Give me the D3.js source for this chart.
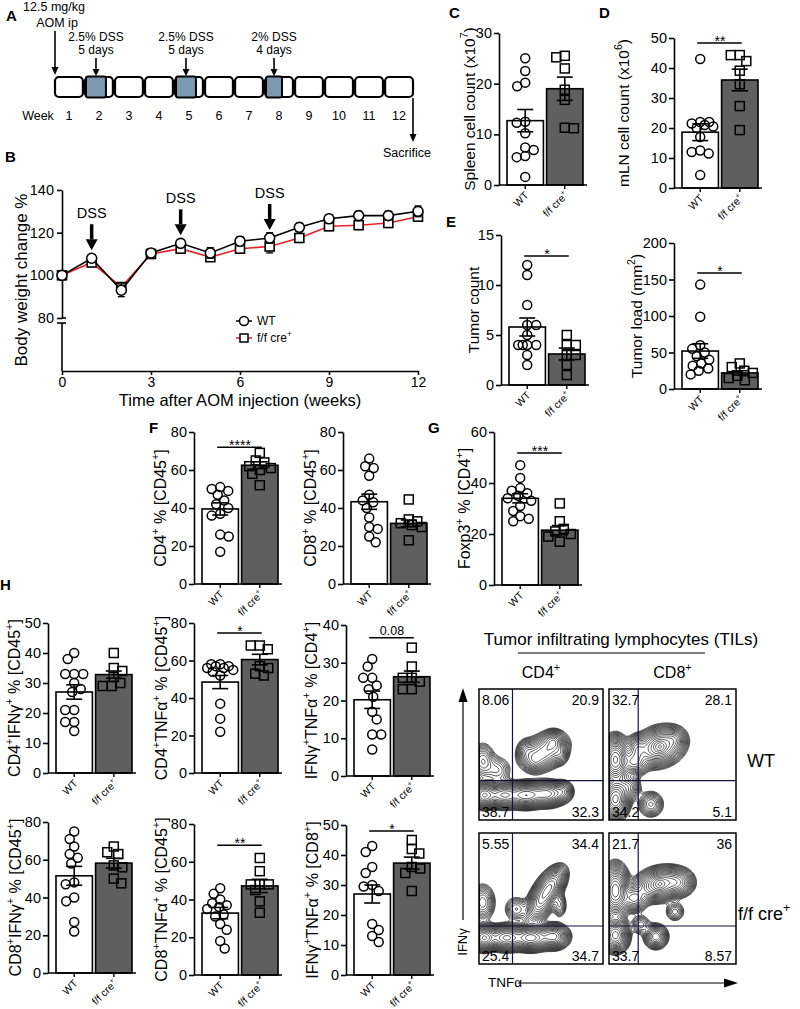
<!DOCTYPE html>
<html>
<head>
<meta charset="utf-8">
<script src="https://cdn.jsdelivr.net/npm/d3@7/dist/d3.min.js"></script>
<style>
  html,body{margin:0;padding:0;background:#fff;}
  svg{display:block;font-family:"Liberation Sans",Arial,Helvetica,sans-serif;}
</style>
</head>
<body>
<svg id="fig" width="800" height="1009"></svg>
<script>
// ================= DATA =================
// Panel A – protocol timeline
const weeks = [1,2,3,4,5,6,7,8,9,10,11,12];
const dssWeeks = [2,5,8];
const dssDays = [5,5,4];
const dssDose = ["2.5% DSS","2.5% DSS","2% DSS"];
const dssDuration = ["5 days","5 days","4 days"];

// Panel B – body weight change (%)
const bWeeks = [0,1,2,3,4,5,6,7,8,9,10,11,12];
const bWT   = [100,108,93,110.5,115,110.5,116,117.5,122.5,126.5,128,128,130];
const bWTse = [0.6,1.5,3,1.5,1.8,2.5,2.2,2.5,2,2,2,2,2.5];
const bFF   = [100,106,94.5,110,112.5,108.5,112.5,113.5,117.5,123,123.5,124.5,127.5];
const bFFse = [0.6,1.5,2,1.5,1.5,1.5,2,3,2,2,2,2,2];
const bDssWeeks = [1,4,7];
const bYTicks = [80,100,120,140];
const bXTicks = [0,3,6,9,12];

// Groups
const groups = ["WT","f/f cre^+"];

// C spleen cell count (x10^7)
const spleenWT = [25,22.5,20.2,19.5,12.5,12.3,10.2,7.4,6.9,5.7,5.5,1.6];
const spleenFF = [25.5,25.2,23,18.8,16.8,11.3,11.2];
const spleenMean = [12.7,19];
const spleenSem = [2.2,2.3];
// D mLN cell count (x10^6)
const mlnWT = [43,22,22,21.5,21,20.5,20,17,12.5,12,11.5,4.3];
const mlnFF = [44.3,44.3,42.3,39.1,34.6,27.3,19.3];
const mlnMean = [18.6,36];
const mlnSem = [2.8,3.6];
// E tumor count
const tumorCountWT = [12,11,8,6,6,5,4,4,4,4,3,2];
const tumorCountFF = [5,4,4,3,3,2,1];
const tumorCountMean = [5.8,3.1];
const tumorCountSem = [0.9,0.6];
// E tumor load (mm^2)
const tumorLoadWT = [143,99,60,55,50,45,40,35,32,28,25,20];
const tumorLoadFF = [35,30,25,22,18,15,12];
const tumorLoadMean = [52,22];
const tumorLoadSem = [10,3];
// F CD4+ % [CD45+]
const cd4WT = [51,50,49,47,44,42,40,37,36,26,25,17];
const cd4FF = [69,65,64,62,61,60,58,52];
const cd4Mean = [39.5,62.5];
const cd4Sem = [3.2,1.8];
// F CD8+ % [CD45+]
const cd8WT = [66,62,61,57,47,44,43,40,35,30,29,25,22];
const cd8FF = [44.5,34,33,32,31,30,23];
const cd8Mean = [43.3,31.9];
const cd8Sem = [4,1.8];
// G Foxp3+ % [CD4+]
const foxp3WT = [47,42,38,37,36,35,34,33,31,29,27,26,25];
const foxp3FF = [32,25,22,21,20,19,17];
const foxp3Mean = [34,21.5];
const foxp3Sem = [1.8,1.8];
// H
const cd4IfngWT = [40,38,33,33,33,30,28,27,21,21,17,17,14];
const cd4IfngFF = [40,35,34,32,30,29,29];
const cd4IfngMean = [27,32.8];
const cd4IfngSem = [2.4,1.2];
const cd4TnfWT = [58,58,57,57,56,56,55,54,52,37,29,22];
const cd4TnfFF = [68,68,66,57,56,53,52];
const cd4TnfMean = [48.5,60.5];
const cd4TnfSem = [3.5,2.8];
const cd4DoubleWT = [31,29,26,26,24,23,21,17,15,11,11,7];
const cd4DoubleFF = [34,29,26,26,25,23,23];
const cd4DoubleMean = [20.2,26.3];
const cd4DoubleSem = [2.3,1.5];
const cd8IfngWT = [75,71,67,63,61,58,48,47,40,38,27,22];
const cd8IfngFF = [67,64,63,57,56,50,47.5];
const cd8IfngMean = [51.5,58.2];
const cd8IfngSem = [5,2.6];
const cd8TnfWT = [46,43,40,38,37,36,35,32,31,27,24,18,14];
const cd8TnfFF = [62,55,48,48,48,45,39,33];
const cd8TnfMean = [32.8,47.2];
const cd8TnfSem = [3,3.5];
const cd8DoubleWT = [43,41,36,34,30,29.5,28,17,15,13,11];
const cd8DoubleFF = [45,42,40.5,36,35.5,34,28];
const cd8DoubleMean = [27,37.3];
const cd8DoubleSem = [3,2];

// Flow cytometry (TILs): quadrant % [UL, UR, LL, LR]
const flowCols = ["CD4^+","CD8^+"];
const flowRows = ["WT","f/f cre^+"];
const flowPctCD4WT = ["8.06","20.9","38.7","32.3"];
const flowPctCD8WT = ["32.7","28.1","34.2","5.1"];
const flowPctCD4FF = ["5.55","34.4","25.4","34.7"];
const flowPctCD8FF = ["21.7","36","33.7","8.57"];
// gate positions (fraction of TNFα / IFNγ axis)
const flowGateX = [0.27,0.23,0.27,0.23];
const flowGateY = [0.30,0.30,0.29,0.29];
// population clusters: [TNFα, IFNγ, sdX, sdY, weight, corr]
const flowBlobsCD4WT = [
 [0.04,0.19,0.05,0.045,1.0,0],[0.20,0.19,0.07,0.045,0.85,0],[0.38,0.19,0.07,0.045,0.95,0],
 [0.55,0.20,0.07,0.045,0.75,0],[0.68,0.22,0.04,0.04,0.25,0],[0.53,0.52,0.09,0.07,0.45,0.3],
 [0.60,0.60,0.04,0.04,0.3,0],[0.45,0.45,0.04,0.04,0.18,0],[0.38,0.52,0.04,0.05,0.16,0],
 [0.03,0.45,0.05,0.07,0.18,0],[0.15,0.38,0.06,0.06,0.1,0],[0.66,0.50,0.03,0.04,0.12,0]];
const flowBlobsCD8WT = [
 [0.05,0.46,0.05,0.08,1.0,0],[0.05,0.16,0.05,0.07,0.85,0],[0.40,0.56,0.09,0.07,0.7,0.2],
 [0.40,0.56,0.025,0.025,0.3,0],[0.20,0.44,0.05,0.05,0.35,0],[0.22,0.55,0.04,0.05,0.25,0],
 [0.33,0.12,0.05,0.05,0.18,0],[0.15,0.25,0.05,0.05,0.2,0],[0.52,0.62,0.04,0.04,0.15,0]];
const flowBlobsCD4FF = [
 [0.04,0.20,0.05,0.045,1.0,0],[0.22,0.20,0.07,0.045,0.85,0],[0.42,0.20,0.07,0.045,0.9,0],
 [0.60,0.21,0.06,0.045,0.6,0],[0.50,0.48,0.06,0.08,0.5,0.5],[0.58,0.60,0.06,0.07,0.55,0.5],
 [0.03,0.47,0.05,0.07,0.2,0],[0.30,0.42,0.05,0.05,0.12,0],[0.65,0.45,0.03,0.05,0.12,0]];
const flowBlobsCD8FF = [
 [0.05,0.56,0.05,0.09,1.0,0],[0.05,0.22,0.05,0.06,0.8,0],[0.40,0.61,0.09,0.06,0.8,0.2],
 [0.40,0.61,0.025,0.025,0.3,0],[0.55,0.62,0.06,0.05,0.35,0],[0.37,0.21,0.045,0.045,0.4,0],
 [0.20,0.50,0.05,0.05,0.35,0],[0.52,0.40,0.04,0.04,0.12,0],[0.25,0.30,0.04,0.04,0.12,0]];

// ================= DRAWING =================
const svg = d3.select("#fig");
const FF_FILL = "#5f5f5f";

function rich(sel, str, fs){
  const parts=[]; let buf="";
  for(let i=0;i<str.length;i++){
    if(str[i]==="^" && i+1<str.length){ if(buf) parts.push([buf,false]); buf=""; parts.push([str[i+1],true]); i++; }
    else buf+=str[i];
  }
  if(buf) parts.push([buf,false]);
  let up=false;
  parts.forEach(([t,sup])=>{
    const ts=sel.append("tspan").text(t);
    if(sup){ ts.attr("font-size",fs*0.68); if(!up){ts.attr("dy",-fs*0.42);} up=true; }
    else { if(up){ts.attr("dy",fs*0.42);} up=false; }
  });
  return sel;
}
function txt(g,x,y,str,fs,anchor,weight){
  const t=g.append("text").attr("x",x).attr("y",y).attr("font-size",fs)
    .attr("text-anchor",anchor||"middle").attr("fill","#000");
  if(weight) t.attr("font-weight",weight);
  return rich(t,str,fs);
}
function arrow(g,x1,y1,x2,y2,sw,hl,hw){
  const a=Math.atan2(y2-y1,x2-x1);
  const ex=x2-hl*Math.cos(a), ey=y2-hl*Math.sin(a);
  g.append("line").attr("x1",x1).attr("y1",y1).attr("x2",ex).attr("y2",ey)
    .attr("stroke","#000").attr("stroke-width",sw);
  const px=-Math.sin(a)*hw/2, py=Math.cos(a)*hw/2;
  g.append("path").attr("d",`M${x2},${y2}L${ex+px},${ey+py}L${ex-px},${ey-py}Z`).attr("fill","#000");
}
function styleAxis(g,fs){
  g.selectAll("path.domain").attr("stroke","#000").attr("stroke-width",1.6);
  g.selectAll(".tick line").attr("stroke","#000").attr("stroke-width",1.6);
  g.selectAll(".tick text").attr("font-size",fs).attr("fill","#000")
    .attr("font-family",'"Liberation Sans",Arial,sans-serif');
}

// ---------- Panel letters ----------
[["A",6,21],["B",5,162],["C",449,18],["D",599,18],["E",446,227],["F",149,433],["G",428,433],["H",0,590]]
  .forEach(([l,x,y])=>txt(svg,x,y,l,15,"start","bold"));

// ---------- Panel A ----------
(function(){
  const g=svg.append("g");
  const ax=d3.scaleBand().domain(weeks).range([55,413]).paddingInner(0.07);
  const bw=ax.bandwidth(), top=77, h=20;
  g.selectAll("rect.wk").data(weeks).join("rect").attr("class","wk")
    .attr("x",d=>ax(d)).attr("y",top).attr("width",bw).attr("height",h).attr("rx",4)
    .attr("fill","#fff").attr("stroke","#000").attr("stroke-width",2.2);
  dssWeeks.forEach((w,i)=>{
    const x0=ax(w)+1, wid=bw*dssDays[i]/7;
    g.append("rect").attr("x",x0).attr("y",top-0.5).attr("width",wid).attr("height",h+1).attr("rx",2)
      .attr("fill","#7b9aaf").attr("stroke","#000").attr("stroke-width",2);
    const cx=x0+wid/2;
    txt(g,cx,40.5,dssDose[i],12);
    txt(g,cx,54,dssDuration[i],12);
    arrow(g,cx,58,cx,76,1.6,7,7);
  });
  g.selectAll("text.wl").data(weeks).join("text").attr("class","wl")
    .attr("x",d=>ax(d)+bw/2).attr("y",120).attr("text-anchor","middle").attr("font-size",12.5).text(d=>d);
  txt(g,38,120,"Week",12.5);
  txt(g,54,11,"12.5 mg/kg",12.5);
  txt(g,57,26.5,"AOM ip",12.5);
  arrow(g,ax(1),31,ax(1),75,1.6,8,7);
  const xe=ax(12)+bw;
  arrow(g,xe,98,xe,142,1.6,8,7);
  txt(g,383,157,"Sacrifice",12.5,"start");
})();

// ---------- Panel B ----------
(function(){
  const g=svg.append("g");
  const x=d3.scaleLinear().domain([0,12]).range([62,418]);
  const y=d3.scaleLinear().domain([80,140]).range([318,190]);
  const ya=g.append("g").attr("transform","translate(62,0)")
    .call(d3.axisLeft(y).tickValues(bYTicks).tickSize(5).tickSizeOuter(0).tickPadding(3));
  styleAxis(ya,14.5);
  g.append("line").attr("x1",62).attr("x2",62).attr("y1",323).attr("y2",371).attr("stroke","#000").attr("stroke-width",1.6);
  g.append("line").attr("x1",57).attr("x2",66).attr("y1",323).attr("y2",323).attr("stroke","#000").attr("stroke-width",1.6);
  g.append("line").attr("x1",62).attr("x2",66).attr("y1",318).attr("y2",318).attr("stroke","#000").attr("stroke-width",1.6);
  const xa=g.append("g").attr("transform","translate(0,371)")
    .call(d3.axisBottom(x).tickValues(bXTicks).tickSize(4).tickSizeOuter(0).tickPadding(2));
  styleAxis(xa,14);
  txt(g,240,406,"Time after AOM injection (weeks)",16.5);
  g.append("text").attr("transform","translate(27,280) rotate(-90)").attr("text-anchor","middle")
    .attr("font-size",17).text("Body weight change %");

  function series(vals,se,color,shape){
    const pts=bWeeks.map((w,i)=>({w,v:vals[i],s:se[i]}));
    g.append("path").datum(pts).attr("fill","none").attr("stroke",color).attr("stroke-width",1.6)
      .attr("d",d3.line().x(d=>x(d.w)).y(d=>y(d.v)));
    pts.forEach(p=>{
      g.append("line").attr("x1",x(p.w)).attr("x2",x(p.w)).attr("y1",y(p.v-p.s)).attr("y2",y(p.v+p.s)).attr("stroke","#000").attr("stroke-width",1.3);
      [p.v-p.s,p.v+p.s].forEach(e=>g.append("line").attr("x1",x(p.w)-3.5).attr("x2",x(p.w)+3.5).attr("y1",y(e)).attr("y2",y(e)).attr("stroke","#000").attr("stroke-width",1.3));
    });
    pts.forEach(p=>{
      if(shape==="circle") g.append("circle").attr("cx",x(p.w)).attr("cy",y(p.v)).attr("r",5).attr("fill","#fff").attr("stroke","#000").attr("stroke-width",1.6);
      else g.append("rect").attr("x",x(p.w)-4.5).attr("y",y(p.v)-4.5).attr("width",9).attr("height",9).attr("fill","#fff").attr("stroke","#000").attr("stroke-width",1.6);
    });
  }
  series(bFF,bFFse,"#e8202a","square");
  series(bWT,bWTse,"#000","circle");

  bDssWeeks.forEach(w=>{
    const i=bWeeks.indexOf(w);
    const tip=y(bWT[i])-8;
    arrow(g,x(w),tip-26,x(w),tip,3.5,11,12);
    txt(g,x(w),tip-32,"DSS",14.5);
  });
  // legend
  g.append("line").attr("x1",236).attr("x2",252).attr("y1",321).attr("y2",321).attr("stroke","#000").attr("stroke-width",1.5);
  g.append("circle").attr("cx",244).attr("cy",321).attr("r",4.5).attr("fill","#fff").attr("stroke","#000").attr("stroke-width",1.5);
  txt(g,257,325,"WT",12,"start");
  g.append("line").attr("x1",236).attr("x2",252).attr("y1",338).attr("y2",338).attr("stroke","#e8202a").attr("stroke-width",1.5);
  g.append("rect").attr("x",240).attr("y",334).attr("width",8).attr("height",8).attr("fill","#fff").attr("stroke","#000").attr("stroke-width",1.5);
  txt(g,257,342,"f/f cre^+",12,"start");
})();

// ---------- Dot plots ----------
function swarm(vals,y,cx,r,half){
  const idx=vals.map((v,i)=>i).sort((a,b)=>vals[b]-vals[a]);
  const placed=[]; const out=new Array(vals.length); const minD=2*r*0.95;
  const cands=[0]; for(let s=0.5;s<=half;s+=0.5){cands.push(s,-s);}
  idx.forEach((i,n)=>{
    const py=y(vals[i]); let best=null,bestD=-1;
    for(const c0 of cands){
      const c=(n%2?-c0:c0);
      let md=Infinity;
      for(const p of placed){ const d=Math.hypot(p[0]-(cx+c),p[1]-py); if(d<md) md=d; }
      if(md>=minD){best=c;break;}
      if(md>bestD){bestD=md;best=c;}
    }
    placed.push([cx+best,py]); out[i]=cx+best;
  });
  return out;
}
function dotPlot(o){
  const g=svg.append("g");
  const y=d3.scaleLinear().domain([0,o.max]).range([o.yBase,o.yTop]);
  const x=d3.scaleBand().domain(groups).range([o.x0+8,o.x0+84]).paddingInner(0.08);
  const bw=x.bandwidth();
  g.selectAll("rect.bar").data(groups).join("rect").attr("class","bar")
    .attr("x",d=>x(d)).attr("width",bw).attr("y",(d,i)=>y(o.mean[i])).attr("height",(d,i)=>o.yBase-y(o.mean[i]))
    .attr("fill",(d,i)=>i?FF_FILL:"#fff").attr("stroke","#000").attr("stroke-width",1.6);
  const r=4.5;
  const cxW=x(groups[0])+bw/2, cxF=x(groups[1])+bw/2;
  const xsW=swarm(o.wt,y,cxW,r,13), xsF=swarm(o.ff,y,cxF,r,13);
  o.wt.forEach((v,i)=>g.append("circle").attr("cx",xsW[i]).attr("cy",y(v)).attr("r",r)
    .attr("fill","none").attr("stroke","#000").attr("stroke-width",1.5));
  o.ff.forEach((v,i)=>g.append("rect").attr("x",xsF[i]-4.5).attr("y",y(v)-4.5).attr("width",9).attr("height",9)
    .attr("fill","none").attr("stroke","#000").attr("stroke-width",1.5));
  [cxW,cxF].forEach((cx,i)=>{
    const lo=y(o.mean[i]-o.sem[i]), hi=y(o.mean[i]+o.sem[i]);
    g.append("line").attr("x1",cx).attr("x2",cx).attr("y1",lo).attr("y2",hi).attr("stroke","#000").attr("stroke-width",1.6);
    [lo,hi].forEach(e=>g.append("line").attr("x1",cx-8).attr("x2",cx+8).attr("y1",e).attr("y2",e).attr("stroke","#000").attr("stroke-width",1.6));
  });
  const ya=g.append("g").attr("transform",`translate(${o.x0},0)`)
    .call(d3.axisLeft(y).tickValues(d3.range(0,o.max+o.step/2,o.step)).tickSize(5).tickSizeOuter(0).tickPadding(2));
  styleAxis(ya,14.5);
  g.append("line").attr("x1",o.x0).attr("x2",o.x0+88).attr("y1",o.yBase).attr("y2",o.yBase).attr("stroke","#000").attr("stroke-width",1.6);
  [cxW,cxF].forEach(cx=>g.append("line").attr("x1",cx).attr("x2",cx).attr("y1",o.yBase).attr("y2",o.yBase+4).attr("stroke","#000").attr("stroke-width",1.4));
  groups.forEach((gr,i)=>{
    const cx=i?cxF:cxW;
    const t=g.append("text").attr("transform",`translate(${cx+4},${o.yBase+11}) rotate(-45)`)
      .attr("text-anchor","end").attr("font-size",10.5);
    rich(t,gr,10.5);
  });
  const lt=g.append("text").attr("transform",`translate(${o.labelX+o.lfs*0.36},${(o.yBase+o.yTop)/2}) rotate(-90)`)
    .attr("text-anchor","middle").attr("font-size",o.lfs);
  rich(lt,o.label,o.lfs);
  if(o.sig){
    const sy=y(o.sig[1]);
    g.append("line").attr("x1",cxW-3).attr("x2",cxF+2).attr("y1",sy).attr("y2",sy).attr("stroke","#000").attr("stroke-width",1.5);
    const isNum=/\d/.test(o.sig[0]);
    g.append("text").attr("x",(cxW+cxF)/2).attr("y",isNum?sy-3:sy+3).attr("text-anchor","middle")
      .attr("font-size",isNum?12.5:14).text(o.sig[0]);
  }
}
const dotCharts=[
 {wt:spleenWT,ff:spleenFF,mean:spleenMean,sem:spleenSem,sig:null,label:"Spleen cell count (x10^7)",x0:499,yBase:185,yTop:33,max:30,step:10,labelX:469,lfs:15.5},
 {wt:mlnWT,ff:mlnFF,mean:mlnMean,sem:mlnSem,sig:["**",48.3],label:"mLN cell count (x10^6)",x0:674,yBase:188,yTop:38,max:50,step:10,labelX:623,lfs:15.5},
 {wt:tumorCountWT,ff:tumorCountFF,mean:tumorCountMean,sem:tumorCountSem,sig:["*",12.9],label:"Tumor count",x0:501,yBase:385,yTop:235,max:15,step:5,labelX:473,lfs:15.5},
 {wt:tumorLoadWT,ff:tumorLoadFF,mean:tumorLoadMean,sem:tumorLoadSem,sig:["*",159],label:"Tumor load (mm^2)",x0:674,yBase:389,yTop:243,max:200,step:50,labelX:636,lfs:15.5},
 {wt:cd4WT,ff:cd4FF,mean:cd4Mean,sem:cd4Sem,sig:["****",72],label:"CD4^+ % [CD45^+]",x0:194,yBase:584,yTop:432,max:80,step:20,labelX:160,lfs:16},
 {wt:cd8WT,ff:cd8FF,mean:cd8Mean,sem:cd8Sem,sig:null,label:"CD8^+ % [CD45^+]",x0:343,yBase:584,yTop:432,max:80,step:20,labelX:310,lfs:16},
 {wt:foxp3WT,ff:foxp3FF,mean:foxp3Mean,sem:foxp3Sem,sig:["***",51.8],label:"Foxp3^+ % [CD4^+]",x0:494,yBase:585,yTop:432,max:60,step:20,labelX:464,lfs:16},
 {wt:cd4IfngWT,ff:cd4IfngFF,mean:cd4IfngMean,sem:cd4IfngSem,sig:null,label:"CD4^+IFNγ^+ % [CD45^+]",x0:48,yBase:773,yTop:623,max:50,step:10,labelX:14,lfs:16},
 {wt:cd4TnfWT,ff:cd4TnfFF,mean:cd4TnfMean,sem:cd4TnfSem,sig:["*",74.7],label:"CD4^+TNFα^+ % [CD45^+]",x0:194,yBase:773,yTop:623,max:80,step:20,labelX:161,lfs:16},
 {wt:cd4DoubleWT,ff:cd4DoubleFF,mean:cd4DoubleMean,sem:cd4DoubleSem,sig:["0.08",36.6],label:"IFNγ^+TNFα^+ % [CD4^+]",x0:346,yBase:776,yTop:625,max:40,step:10,labelX:311,lfs:16},
 {wt:cd8IfngWT,ff:cd8IfngFF,mean:cd8IfngMean,sem:cd8IfngSem,sig:null,label:"CD8^+IFNγ^+ % [CD45^+]",x0:48,yBase:973,yTop:822,max:80,step:20,labelX:15,lfs:16},
 {wt:cd8TnfWT,ff:cd8TnfFF,mean:cd8TnfMean,sem:cd8TnfSem,sig:["**",68.8],label:"CD8^+TNFα^+ % [CD45^+]",x0:194,yBase:975,yTop:824,max:80,step:20,labelX:161,lfs:16},
 {wt:cd8DoubleWT,ff:cd8DoubleFF,mean:cd8DoubleMean,sem:cd8DoubleSem,sig:["*",48],label:"IFNγ^+TNFα^+ % [CD8^+]",x0:346,yBase:975,yTop:825,max:50,step:10,labelX:312,lfs:16}
];
dotCharts.forEach(dotPlot);

// ---------- Flow cytometry panel ----------
(function(){
  const g=svg.append("g");
  txt(g,621,645,"Tumor infiltrating lymphocytes (TILs)",17);
  g.append("line").attr("x1",518).attr("x2",705).attr("y1",653).attr("y2",653).attr("stroke","#000").attr("stroke-width",1.2);
  const colX=[[479,603],[609,736]], rowY=[[689,820],[833,964]];
  flowCols.forEach((c,i)=>txt(g,(colX[i][0]+colX[i][1])/2,678,c,16));
  txt(g,747,767,flowRows[0],18,"start");
  txt(g,738,920,flowRows[1],18,"start");
  const blobs=[flowBlobsCD4WT,flowBlobsCD8WT,flowBlobsCD4FF,flowBlobsCD8FF];
  const pcts=[flowPctCD4WT,flowPctCD8WT,flowPctCD4FF,flowPctCD8FF];
  const defs=svg.append("defs");
  blobs.forEach((bl,k)=>{
    const [x0,x1]=colX[k%2], [y0,y1]=rowY[Math.floor(k/2)];
    const fx=d3.scaleLinear().domain([0,1]).range([x0,x1]);
    const fy=d3.scaleLinear().domain([0,1]).range([y1,y0]);
    const nx=120, ny=120;
    const vals=new Float64Array(nx*ny);
    for(let j=0;j<ny;j++)for(let i=0;i<nx;i++){
      const X=(i+0.5)/nx, Y=(j+0.5)/ny; let s=0;
      for(const [cx,cy,sx,sy,w,rho] of bl){
        const dx=(X-cx)/sx, dy=(Y-cy)/sy;
        s+=w*Math.exp(-(dx*dx-2*rho*dx*dy+dy*dy)/(2*(1-rho*rho)));
      }
      vals[j*nx+i]=s;
    }
    const mx=d3.max(vals);
    const levels=d3.range(20).map(i=>0.025*Math.pow(0.95/0.025,i/19)*mx);
    const cs=d3.contours().size([nx,ny]).thresholds(levels)(vals);
    const gx=d3.scaleLinear().domain([0,nx]).range([x0,x1]);
    const gy=d3.scaleLinear().domain([0,ny]).range([y1,y0]);
    const path=d3.geoPath(d3.geoTransform({point(px,py){this.stream.point(gx(px),gy(py));}}));
    const id="clip"+k;
    defs.append("clipPath").attr("id",id).append("rect").attr("x",x0).attr("y",y0).attr("width",x1-x0).attr("height",y1-y0);
    g.append("g").attr("clip-path",`url(#${id})`).selectAll("path").data(cs).join("path")
      .attr("d",path).attr("fill","none").attr("stroke","#262626").attr("stroke-width",0.8);
    g.append("line").attr("x1",fx(flowGateX[k])).attr("x2",fx(flowGateX[k])).attr("y1",y0).attr("y2",y1).attr("stroke","#14143a").attr("stroke-width",1.2);
    g.append("line").attr("x1",x0).attr("x2",x1).attr("y1",fy(flowGateY[k])).attr("y2",fy(flowGateY[k])).attr("stroke","#14143a").attr("stroke-width",1.2);
    g.append("rect").attr("x",x0).attr("y",y0).attr("width",x1-x0).attr("height",y1-y0).attr("fill","none").attr("stroke","#000").attr("stroke-width",1.5);
    const p=pcts[k];
    txt(g,x0+3,y0+16,p[0],14,"start");
    txt(g,x1-4,y0+16,p[1],14,"end");
    txt(g,x0+3,y1-3,p[2],14,"start");
    txt(g,x1-4,y1-3,p[3],14,"end");
  });
  arrow(g,463,920,463,688,1.2,14,9);
  g.append("text").attr("transform","translate(467,942) rotate(-90)").attr("text-anchor","middle").attr("font-size",13).text("IFNγ");
  txt(g,488,987,"TNFα",13.5,"start");
  arrow(g,518,983,738,983,1.2,14,9);
})();
</script>
</body>
</html>
